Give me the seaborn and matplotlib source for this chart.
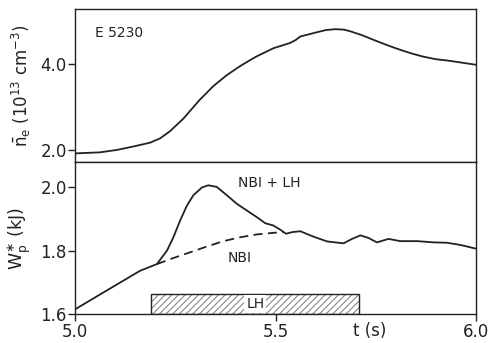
import matplotlib
matplotlib.use("Agg")
import matplotlib.pyplot as plt
import seaborn as sns
import pandas as pd
from matplotlib.patches import Rectangle

# ---- data ----
t_ne = [5.0, 5.062, 5.104, 5.145, 5.187, 5.212, 5.237, 5.27, 5.31, 5.345, 5.378, 5.411,
        5.436, 5.453, 5.495, 5.536, 5.55, 5.561, 5.578, 5.603, 5.625, 5.648, 5.67, 5.686,
        5.715, 5.744, 5.78, 5.81, 5.84, 5.868, 5.9, 5.928, 5.965, 6.0]
ne = [1.92, 1.945, 2.0, 2.08, 2.17, 2.27, 2.44, 2.73, 3.16, 3.49, 3.74, 3.95,
      4.09, 4.18, 4.37, 4.49, 4.56, 4.64, 4.68, 4.74, 4.79, 4.81, 4.80, 4.76,
      4.67, 4.56, 4.43, 4.33, 4.24, 4.17, 4.11, 4.08, 4.03, 3.98]

t_w = [5.0, 5.08, 5.162, 5.204, 5.229, 5.245, 5.262, 5.279, 5.295, 5.316, 5.332, 5.353,
       5.378, 5.403, 5.428, 5.453, 5.474, 5.494, 5.511, 5.526, 5.540, 5.561, 5.594,
       5.628, 5.669, 5.69, 5.711, 5.731, 5.752, 5.781, 5.81, 5.852, 5.894, 5.926, 5.96, 6.0]
w_nbi_lh = [1.616, 1.676, 1.737, 1.758, 1.80, 1.842, 1.895, 1.942, 1.974, 1.998, 2.005, 2.0,
            1.974, 1.947, 1.926, 1.905, 1.886, 1.879, 1.866, 1.853, 1.858, 1.861, 1.844,
            1.829, 1.823, 1.837, 1.848, 1.84, 1.826, 1.837, 1.83, 1.83, 1.826, 1.825, 1.818, 1.806]

t_nbi = [5.204, 5.245, 5.287, 5.328, 5.37, 5.411, 5.453, 5.494, 5.519]
w_nbi = [1.758, 1.777, 1.795, 1.813, 1.83, 1.842, 1.851, 1.856, 1.858]

lh_start, lh_end = 5.19, 5.708
lh_height = 0.065

top_ticks = [2.0, 4.0]
bot_ticks = [1.6, 1.8, 2.0]
x_ticks = [5.0, 5.5, 6.0]

# ---- style ----
sns.set_style("ticks")
plt.rcParams["font.family"] = ["DejaVu Sans"]
plt.rcParams["hatch.linewidth"] = 0.8
plt.rcParams["mathtext.default"] = "regular"
ink = "#222222"

fig = plt.figure(figsize=(4.89, 3.43), dpi=100)
left, width = 0.1534, 0.821
ax1 = fig.add_axes([left, 0.5277, width, 0.4461])
ax2 = fig.add_axes([left, 0.0831, width, 0.4446], sharex=ax1)

df_ne = pd.DataFrame({"t": t_ne, "ne": ne})
df_w = pd.DataFrame({"t": t_w, "w": w_nbi_lh})
df_nbi = pd.DataFrame({"t": t_nbi, "w": w_nbi})

sns.lineplot(data=df_ne, x="t", y="ne", ax=ax1, color=ink, lw=1.3)
sns.lineplot(data=df_w, x="t", y="w", ax=ax2, color=ink, lw=1.3)
sns.lineplot(data=df_nbi, x="t", y="w", ax=ax2, color=ink, lw=1.3, dashes=False,
             linestyle=(0, (5, 3)))

ax1.set_xlim(5.0, 6.0)
ax1.set_ylim(1.72, 5.28)
ax2.set_ylim(1.6, 2.078)

for ax in (ax1, ax2):
    for s in ax.spines.values():
        s.set_visible(True)
        s.set_color(ink)
        s.set_linewidth(1.0)
    ax.tick_params(direction="out", length=5, width=1.0, color=ink, labelcolor=ink,
                   labelsize=12, pad=1)

ax1.set_yticks(top_ticks)
ax1.set_yticklabels([f"{v:.1f}" for v in top_ticks])
ax1.tick_params(axis="x", bottom=False, labelbottom=False)
ax2.set_yticks(bot_ticks)
ax2.set_yticklabels([f"{v:.1f}" for v in bot_ticks])
ax2.set_xticks(x_ticks)
ax2.set_xticklabels([f"{v:.1f}" for v in x_ticks])

ax1.set_xlabel("")
ax2.set_xlabel("")
ax1.set_ylabel(r"$\bar{n}_e$ (10$^{13}$ cm$^{-3}$)", fontsize=12, color=ink)
ax2.set_ylabel(r"W$_p^{\ast}$ (kJ)", fontsize=12.5, color=ink)
ax1.yaxis.set_label_coords(-0.105, 0.5)
ax2.yaxis.set_label_coords(-0.105, 0.5)

ax2.text(5.735, -0.05, "t (s)", transform=ax2.get_xaxis_transform(), ha="center",
         va="top", fontsize=12, color=ink)

ax1.text(5.05, 4.72, "E 5230", fontsize=10, color=ink, ha="left", va="center")
ax2.text(5.406, 2.012, "NBI + LH", fontsize=10, color=ink, ha="left", va="center")
ax2.text(5.379, 1.778, "NBI", fontsize=10, color=ink, ha="left", va="center")

# LH hatched box
ax2.add_patch(Rectangle((lh_start, 1.6), lh_end - lh_start, lh_height, fill=False,
                        hatch="/////", edgecolor="#888888", linewidth=0, zorder=2))
ax2.add_patch(Rectangle((lh_start, 1.6), lh_end - lh_start, lh_height, fill=False,
                        edgecolor=ink, linewidth=1.0, zorder=3))
ax2.text((lh_start + lh_end) / 2, 1.6 + lh_height / 2, "LH", fontsize=10, color=ink,
         ha="center", va="center", zorder=4,
         bbox=dict(facecolor="white", edgecolor="none", pad=1.5))

fig.savefig("out.png", dpi=100)
